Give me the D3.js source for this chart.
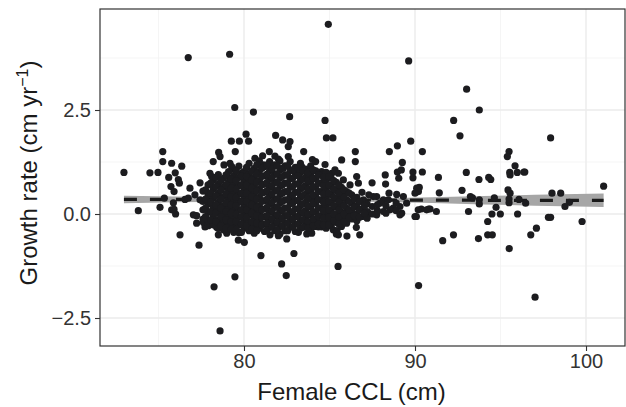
<!DOCTYPE html>
<html>
<head>
<meta charset="utf-8">
<script src="https://cdn.jsdelivr.net/npm/d3@7"></script>
<style>
  body { margin: 0; background: #fff; }
  text { font-family: "Liberation Sans", Arial, Helvetica, sans-serif; }
</style>
</head>
<body>
<div id="chart"></div>
<script>
// chart size and panel margins
const width = 626;
const height = 407;
const margin = {left: 100, right: 1, top: 9, bottom: 61};

// axis ticks
const xTicks = [80, 90, 100];
const xMinor = [75, 85, 95];
const yTicks = [-2.5, 0, 2.5];
const yMinor = [-1.25, 1.25, 3.75];

// loose points: [CCL, growth]
const scatter = [
  [76.74,3.76],[79.16,3.84],[79.46,2.56],[80.55,2.45],[82.67,2.34],[84.93,4.56],[89.63,3.68],[93.02,3.00],
  [93.76,2.50],[84.74,2.25],[92.26,2.25],[92.63,1.88],[97.93,1.83],[80.12,1.92],[79.26,1.75],[79.73,1.75],
  [80.27,1.75],[81.85,1.89],[82.26,1.78],[82.69,1.74],[82.59,1.62],[84.82,1.83],[85.20,1.83],
  [75.25,1.50],[75.25,1.26],[75.77,1.22],[76.36,1.15],[72.98,1.00],[74.50,0.99],[74.97,1.00],
  [78.52,1.48],[79.49,1.50],[83.49,1.50],[78.20,1.26],[78.01,0.98],[77.43,0.75],[76.84,0.62],
  [75.98,0.99],[75.60,0.88],[76.16,0.83],[76.22,0.74],[75.73,0.66],[75.91,0.54],
  [73.82,0.08],[75.09,0.16],[75.77,0.10],[76.00,0.00],[75.34,0.38],[75.87,0.27],[75.91,0.11],
  [76.55,0.35],[76.74,0.38],[77.04,-0.02],[77.23,-0.22],[77.72,-0.31],
  [76.26,-0.50],[77.37,-0.75],[78.50,-0.50],[78.99,-0.46],[79.37,-0.36],[79.67,-0.63],[80.02,-0.68],
  [80.99,-1.00],[82.20,-1.20],[82.47,-1.48],[82.92,-0.95],[79.47,-1.51],[78.25,-1.75],[78.60,-2.81],
  [77.23,-0.04],[77.62,-0.20],[77.91,-0.28],[78.40,-0.32],[78.60,-0.24],
  [80.35,-0.32],[80.74,-0.36],[81.52,-0.50],[82.01,-0.52],[82.50,-0.60],[83.18,-0.44],[83.67,-0.48],
  [83.96,-0.46],[84.54,-0.31],[85.22,-0.38],[84.78,-0.30],[84.35,-0.31],[85.52,-0.50],
  [85.50,-1.26],[90.21,-1.72],[97.02,-2.00],
  [86.02,-0.53],[86.77,-0.50],[85.40,-0.48],[85.44,-0.40],[86.57,-0.32],
  [80.64,1.34],[81.09,1.40],[81.48,1.50],[81.81,1.39],[82.01,1.32],[82.59,1.38],[84.00,1.31],[84.19,1.26],[84.74,1.19],
  [79.18,1.22],[79.47,1.06],[79.87,0.98],[80.06,0.82],[79.18,0.86],[78.60,1.38],[78.83,1.18],[79.28,1.14],[78.11,0.90],
  [77.13,0.46],[77.43,0.34],
  [81.13,1.18],[81.62,1.14],[82.30,1.10],[82.98,1.02],[83.37,1.14],[83.76,0.90],[84.15,0.86],[84.54,1.02],[84.93,0.90],[85.13,0.98],
  [88.97,1.64],[88.50,1.50],[90.43,1.50],[86.51,1.50],[86.51,1.26],[85.71,1.30],[89.26,1.24],[89.75,1.75],
  [95.50,1.50],[95.40,1.38],[95.85,1.16],[96.37,1.01],[95.54,1.00],[93.00,1.00],[91.37,0.88],
  [93.74,0.83],[94.31,0.88],[94.43,0.83],[88.26,0.94],[88.28,0.72],[87.49,0.75],
  [88.97,1.01],[89.20,1.06],[89.05,0.86],[89.88,1.01],[90.43,1.01],[89.88,0.87],[90.25,0.64],
  [91.42,0.51],[92.75,0.57],[98.01,0.50],[98.52,0.50],[95.44,0.58],[101.03,0.67],
  [95.98,1.00],[96.42,1.01],[95.56,0.94],
  [93.24,0.42],[93.36,0.39],[93.76,0.34],[93.76,0.24],[94.64,0.39],[95.56,0.50],[95.50,0.27],[95.50,0.36],
  [96.08,0.35],[96.47,0.26],[94.74,0.16],[94.50,0.00],[94.99,0.00],[96.00,0.00],[93.13,0.06],[94.25,-0.18],
  [99.03,0.28],[98.77,0.18],[97.80,-0.08],[97.93,-0.08],[99.77,-0.18],[97.10,-0.34],[96.77,-0.50],
  [94.25,-0.50],[94.52,-0.50],[93.71,-0.59],[92.25,-0.50],[91.62,-0.64],[95.51,-0.83],[90.88,0.12],[91.25,0.06],
  [90.08,-0.06],[90.37,0.12],[90.80,0.12],
  [85.32,1.06],[85.52,0.98],[85.81,0.82],[85.42,0.58],[86.20,0.70],[86.69,0.74],[86.59,0.90],
  [90.10,0.62],[90.20,0.54],[90.00,0.50],[88.48,0.50],[88.93,0.47],[89.32,0.42],[87.76,0.42],[88.15,0.34],
  [86.98,0.34],[87.56,0.42],[87.95,0.26],[88.44,0.34],[88.73,0.14],[89.12,0.18],[89.22,0.02],[89.51,0.26],
  [90.00,-0.06],[90.19,0.10],[90.68,0.10],[86.90,0.52],[87.30,0.46],
  [87.27,0.02],[87.76,-0.02],[88.15,0.06],[88.54,0.10],[89.12,-0.02]
];

// the solid core of the cloud, one column per CCL value: [CCL, [growth values]]
const cluster = [
  [77.6, [0.55, 0.30, 0.10, -0.12]],
  [77.9, [0.70, 0.46, 0.24, 0.04, -0.16]],
  [78.2, [0.82, 0.60, 0.38, 0.16, -0.06, -0.26]],
  [78.5, [0.95, 0.72, 0.50, 0.28, 0.08, -0.14, -0.35]],
  [78.8, [0.86, 0.64, 0.42, 0.20, 0.00, -0.20, -0.38]],
  [79.1, [1.02, 0.76, 0.55, 0.34, 0.14, -0.06, -0.26]],
  [79.4, [0.92, 0.70, 0.50, 0.30, 0.10, -0.08, -0.28, -0.44]],
  [79.7, [1.15, 0.88, 0.68, 0.48, 0.28, 0.10, -0.08, -0.26, -0.45]],
  [80.0, [1.02, 0.80, 0.60, 0.40, 0.20, 0.02, -0.16, -0.34]],
  [80.3, [1.22, 0.96, 0.76, 0.56, 0.36, 0.16, -0.02, -0.20, -0.40]],
  [80.6, [1.10, 0.88, 0.68, 0.48, 0.28, 0.08, -0.10, -0.28, -0.46]],
  [80.9, [1.28, 1.02, 0.80, 0.60, 0.40, 0.20, 0.02, -0.16, -0.34]],
  [81.2, [1.14, 0.92, 0.72, 0.52, 0.32, 0.12, -0.06, -0.24, -0.42]],
  [81.5, [1.26, 1.04, 0.84, 0.64, 0.44, 0.24, 0.04, -0.14, -0.32]],
  [81.8, [1.18, 0.96, 0.76, 0.56, 0.36, 0.16, -0.04, -0.22, -0.40]],
  [82.1, [1.28, 1.06, 0.86, 0.66, 0.46, 0.26, 0.06, -0.12, -0.30, -0.48]],
  [82.4, [1.16, 0.94, 0.74, 0.54, 0.34, 0.14, -0.04, -0.22, -0.40]],
  [82.7, [1.26, 1.04, 0.84, 0.64, 0.44, 0.24, 0.04, -0.14, -0.32]],
  [83.0, [1.12, 0.92, 0.72, 0.52, 0.32, 0.12, -0.06, -0.24, -0.42]],
  [83.3, [1.22, 1.00, 0.80, 0.60, 0.40, 0.20, 0.02, -0.16, -0.34]],
  [83.6, [1.08, 0.88, 0.68, 0.48, 0.28, 0.08, -0.10, -0.28]],
  [83.9, [1.16, 0.96, 0.76, 0.56, 0.36, 0.16, -0.02, -0.20, -0.38]],
  [84.2, [1.04, 0.84, 0.64, 0.44, 0.24, 0.04, -0.14, -0.30]],
  [84.5, [0.94, 0.74, 0.54, 0.34, 0.14, -0.04, -0.22]],
  [84.8, [1.00, 0.80, 0.60, 0.40, 0.20, 0.00, -0.18, -0.34]],
  [85.1, [0.86, 0.66, 0.46, 0.26, 0.06, -0.12, -0.28]],
  [85.4, [0.76, 0.56, 0.36, 0.16, -0.02, -0.20]],
  [85.7, [0.64, 0.44, 0.24, 0.04, -0.14, -0.30]],
  [86.0, [0.54, 0.34, 0.14, -0.04, -0.22]],
  [86.3, [0.46, 0.26, 0.06, -0.12]],
  [86.6, [0.40, 0.20, 0.00, -0.16]],
  [86.9, [0.30, 0.12, -0.06]],
  [87.2, [0.24, 0.06, -0.10]],
  [87.5, [0.18, 0.00]],
  [87.8, [0.22, 0.08]],
  [88.3, [0.20, 0.02]],
  [88.9, [0.26, 0.08]],
  // in-between columns, where the cloud is solid black
  [77.75, [0.58, 0.36, 0.14, -0.06]],
  [78.05, [0.74, 0.50, 0.28, 0.06, -0.14]],
  [78.35, [0.88, 0.66, 0.44, 0.22, 0.02, -0.18]],
  [78.65, [0.80, 0.58, 0.36, 0.14, -0.06, -0.28]],
  [78.95, [0.94, 0.70, 0.48, 0.26, 0.06, -0.14, -0.34]],
  [79.25, [0.84, 0.62, 0.42, 0.22, 0.02, -0.18, -0.36]],
  [79.55, [1.04, 0.80, 0.60, 0.40, 0.20, 0.00, -0.18, -0.36]],
  [79.85, [0.92, 0.70, 0.50, 0.30, 0.10, -0.06, -0.24, -0.44]],
  [80.15, [1.12, 0.90, 0.70, 0.50, 0.30, 0.10, -0.08, -0.28]],
  [80.45, [1.04, 0.82, 0.62, 0.42, 0.22, 0.02, -0.18, -0.36]],
  [80.75, [1.18, 0.96, 0.76, 0.56, 0.36, 0.16, -0.04, -0.22, -0.40]],
  [81.05, [1.10, 0.90, 0.70, 0.50, 0.30, 0.10, -0.08, -0.26]],
  [81.35, [1.18, 0.96, 0.76, 0.56, 0.36, 0.16, -0.04, -0.22, -0.38]],
  [81.65, [1.08, 0.88, 0.68, 0.48, 0.28, 0.08, -0.12, -0.30]],
  [81.95, [1.16, 0.96, 0.76, 0.56, 0.36, 0.16, -0.02, -0.20, -0.38]],
  [82.25, [1.10, 0.90, 0.70, 0.50, 0.30, 0.10, -0.10, -0.28]],
  [82.55, [1.16, 0.94, 0.74, 0.54, 0.34, 0.14, -0.04, -0.22, -0.40]],
  [82.85, [1.06, 0.86, 0.66, 0.46, 0.26, 0.06, -0.12, -0.30]],
  [83.15, [1.12, 0.92, 0.72, 0.52, 0.32, 0.12, -0.06, -0.24]],
  [83.45, [1.04, 0.84, 0.64, 0.44, 0.24, 0.04, -0.14, -0.32]],
  [83.75, [1.00, 0.80, 0.60, 0.40, 0.20, 0.00, -0.18, -0.34]],
  [84.05, [1.06, 0.86, 0.66, 0.46, 0.26, 0.06, -0.12, -0.28]],
  [84.35, [0.94, 0.74, 0.54, 0.34, 0.14, -0.06, -0.24]],
  [84.65, [0.88, 0.68, 0.48, 0.28, 0.08, -0.10, -0.26]],
  [84.95, [0.90, 0.70, 0.50, 0.30, 0.10, -0.08, -0.26]],
  [85.25, [0.80, 0.60, 0.40, 0.20, 0.00, -0.16]],
  [85.55, [0.70, 0.50, 0.30, 0.10, -0.08, -0.24]],
  [85.85, [0.58, 0.40, 0.20, 0.00, -0.18]],
  [86.15, [0.50, 0.30, 0.10, -0.08]],
  [86.45, [0.36, 0.16, -0.04]],
  [86.75, [0.30, 0.10, -0.08]],
  [87.05, [0.20, 0.02]]
];

// linear fit with its confidence band
const fitX     = [72.98, 76,   79,    82,    84,    86,    88,    91,    94,   97,   101.03];
const fitY     = [0.35,  0.35, 0.345, 0.34,  0.34,  0.34,  0.335, 0.335, 0.33, 0.33, 0.33];
const fitLower = [0.26,  0.28, 0.295, 0.305, 0.31,  0.305, 0.29,  0.265, 0.23, 0.20, 0.17];
const fitUpper = [0.44,  0.42, 0.395, 0.375, 0.37,  0.375, 0.38,  0.405, 0.43, 0.46, 0.49];

const points = scatter.slice();
cluster.forEach(c => c[1].forEach(g => points.push([c[0], g])));

const svg = d3.select("#chart")
  .append("svg")
  .attr("width", width)
  .attr("height", height);

// scales
const xScale = d3.scaleLinear()
  .domain([71.58, 102.28])
  .range([margin.left, width - margin.right]);

const yScale = d3.scaleLinear()
  .domain([-3.173, 4.928])
  .range([height - margin.bottom, margin.top]);

const panelLeft = margin.left, panelRight = width - margin.right;
const panelTop = margin.top, panelBottom = height - margin.bottom;

// grid
svg.selectAll(".xminor").data(xMinor).enter().append("line")
  .attr("x1", d => xScale(d)).attr("x2", d => xScale(d))
  .attr("y1", panelTop).attr("y2", panelBottom)
  .attr("stroke", "#f2f2f2").attr("stroke-width", 0.8);
svg.selectAll(".yminor").data(yMinor).enter().append("line")
  .attr("y1", d => yScale(d)).attr("y2", d => yScale(d))
  .attr("x1", panelLeft).attr("x2", panelRight)
  .attr("stroke", "#f2f2f2").attr("stroke-width", 0.8);
svg.selectAll(".xmajor").data(xTicks).enter().append("line")
  .attr("x1", d => xScale(d)).attr("x2", d => xScale(d))
  .attr("y1", panelTop).attr("y2", panelBottom)
  .attr("stroke", "#ebebeb").attr("stroke-width", 1.4);
svg.selectAll(".ymajor").data(yTicks).enter().append("line")
  .attr("y1", d => yScale(d)).attr("y2", d => yScale(d))
  .attr("x1", panelLeft).attr("x2", panelRight)
  .attr("stroke", "#ebebeb").attr("stroke-width", 1.4);

// confidence band and fitted line
const fit = fitX.map((x, i) => ({x: x, y: fitY[i], lo: fitLower[i], hi: fitUpper[i]}));

svg.append("path")
  .datum(fit)
  .attr("fill", "#a6a6a6")
  .attr("d", d3.area().x(d => xScale(d.x)).y0(d => yScale(d.lo)).y1(d => yScale(d.hi)));

svg.append("path")
  .datum(fit)
  .attr("fill", "none")
  .attr("stroke", "#1a1a1a")
  .attr("stroke-width", 3.2)
  .attr("stroke-dasharray", "13,13")
  .attr("d", d3.line().x(d => xScale(d.x)).y(d => yScale(d.y)));

// points
svg.selectAll(".pt")
  .data(points)
  .enter()
  .append("circle")
    .attr("class", "pt")
    .attr("cx", d => xScale(d[0]))
    .attr("cy", d => yScale(d[1]))
    .attr("r", 3.6)
    .attr("fill", "#1c1c1f");

// panel border
svg.append("rect")
  .attr("x", panelLeft).attr("y", panelTop)
  .attr("width", panelRight - panelLeft).attr("height", panelBottom - panelTop)
  .attr("fill", "none")
  .attr("stroke", "#333")
  .attr("stroke-width", 1.2);

// axes
const xAxis = svg.append("g")
  .attr("transform", `translate(0,${panelBottom})`)
  .call(d3.axisBottom(xScale).tickValues(xTicks).tickSize(5).tickPadding(3).tickFormat(d3.format("d")));

const yAxis = svg.append("g")
  .attr("transform", `translate(${panelLeft},0)`)
  .call(d3.axisLeft(yScale).tickValues(yTicks).tickSize(5).tickPadding(4)
    .tickFormat(d => d3.format(".1f")(d).replace("-", "\u2212")));

[xAxis, yAxis].forEach(a => {
  a.select(".domain").remove();
  a.selectAll(".tick line").attr("stroke", "#333").attr("stroke-width", 1.1);
  a.selectAll(".tick text")
    .attr("fill", "#333")
    .attr("font-size", "20px")
    .attr("font-family", "'Liberation Sans', Arial, Helvetica, sans-serif");
});

// axis titles
svg.append("text")
  .attr("x", (panelLeft + panelRight) / 2 - 11)
  .attr("y", 400)
  .attr("text-anchor", "middle")
  .attr("font-size", "24px")
  .attr("fill", "#1a1a1a")
  .text("Female CCL (cm)");

const yTitle = svg.append("text")
  .attr("transform", "translate(37,173) rotate(-90)")
  .attr("text-anchor", "middle")
  .attr("font-size", "24px")
  .attr("fill", "#1a1a1a");
yTitle.append("tspan").text("Growth rate (cm yr");
yTitle.append("tspan").attr("font-size", "16px").attr("dy", -9).text("\u22121");
yTitle.append("tspan").attr("dy", 9).text(")");
</script>
</body>
</html>
